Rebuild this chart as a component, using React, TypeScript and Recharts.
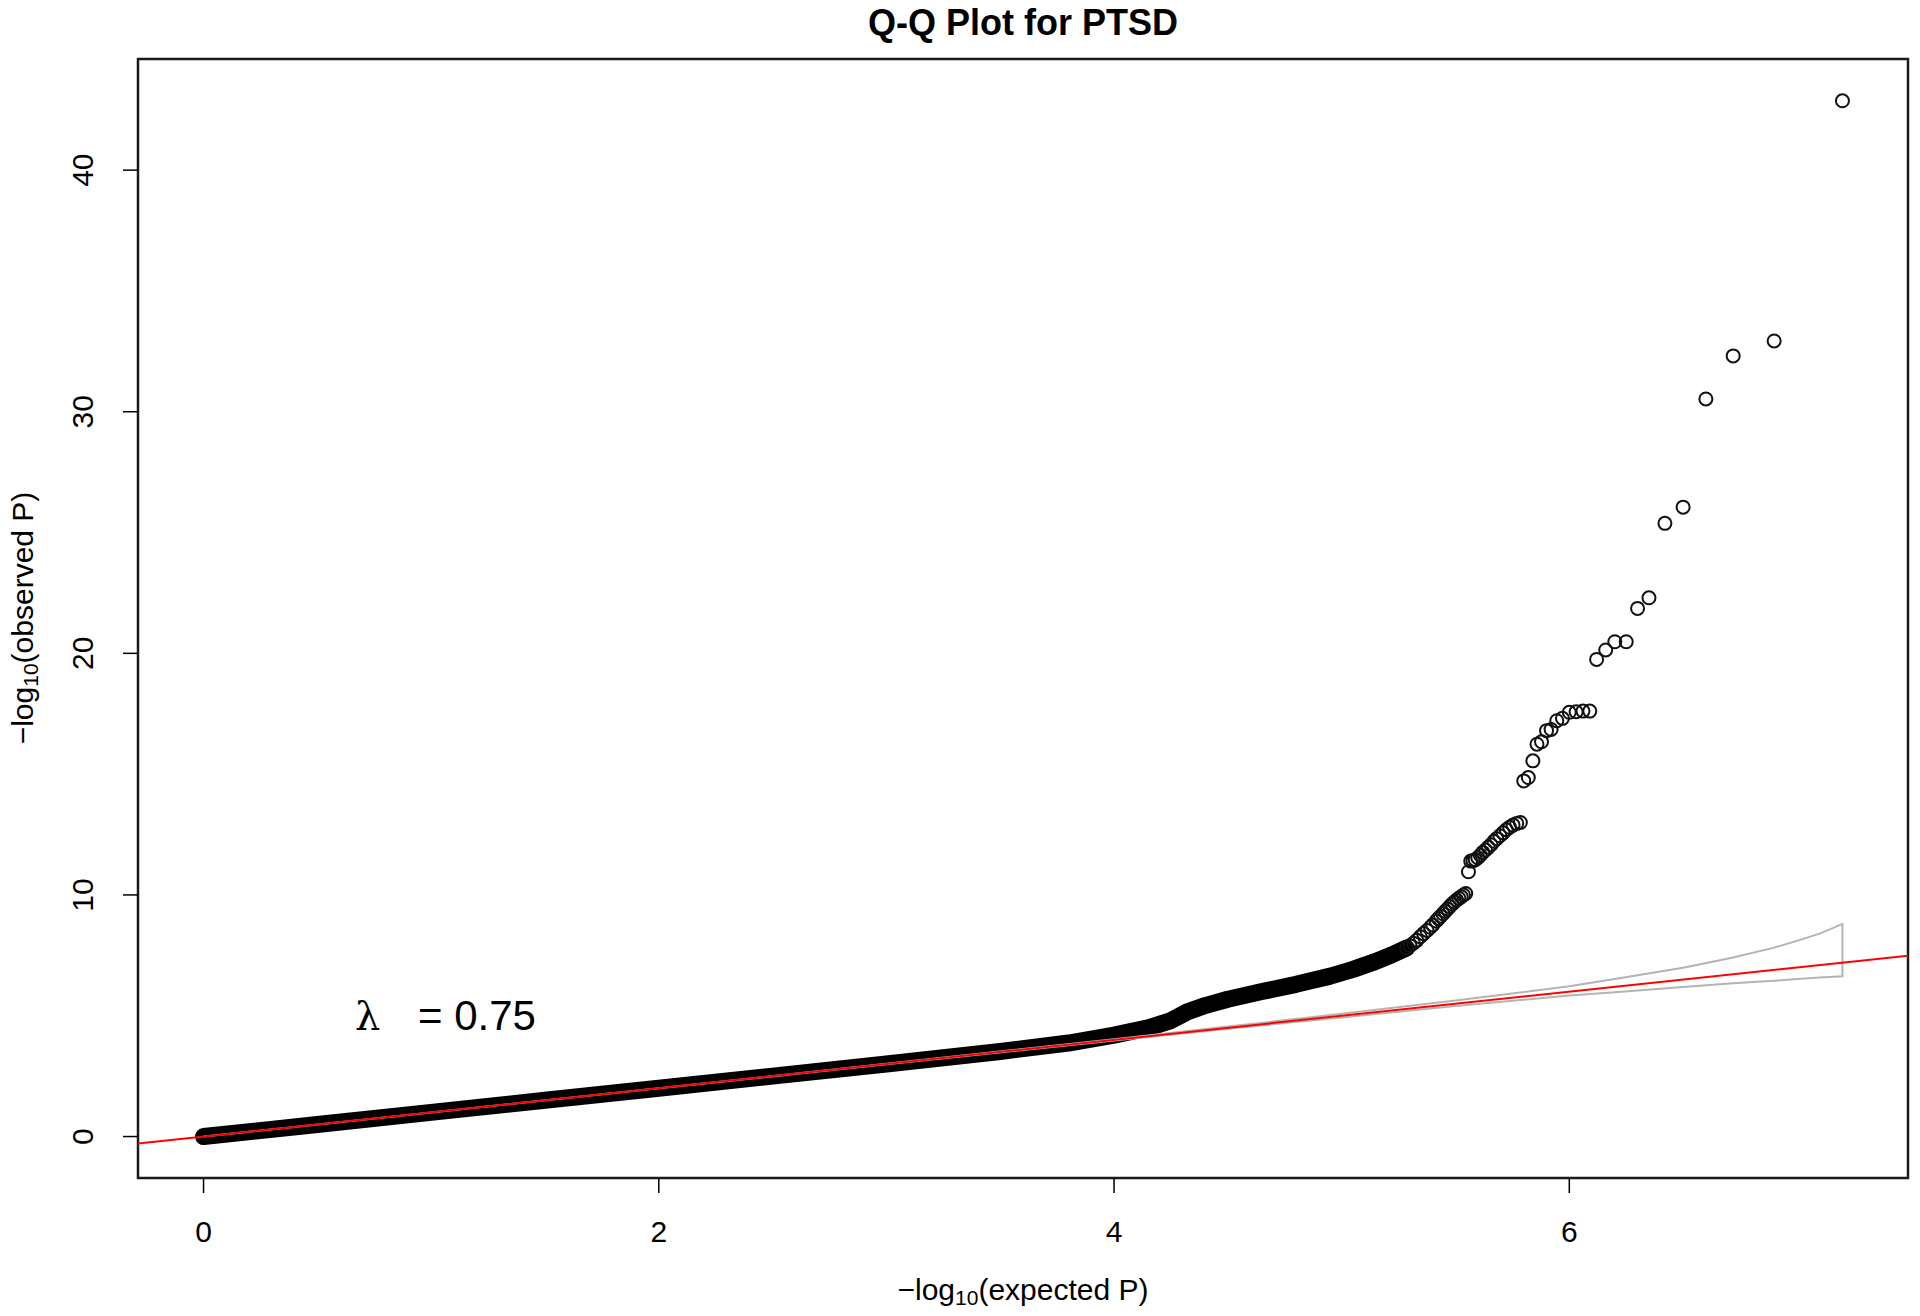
import { ComposedChart, Scatter, XAxis, YAxis, ReferenceArea } from 'recharts'

// axis ranges / ticks (R adds 4% on each side)
const xDomain = [-0.288, 7.488]
const yDomain = [-1.716, 44.6]
const xTicks = [0, 2, 4, 6]
const yTicks = [0, 10, 20, 30, 40]

// dense bulk of the SNPs, drawn as a thick band
const bodyX = [0, 0.5, 1, 1.5, 2, 2.5, 3, 3.5, 3.8, 4.0, 4.15, 4.25, 4.32, 4.4, 4.5, 4.65, 4.8, 4.95, 5.05, 5.15, 5.22, 5.285]
const bodyY = [0, 0.5, 1, 1.5, 2, 2.5, 3, 3.52, 3.87, 4.2, 4.5, 4.8, 5.15, 5.42, 5.68, 6.0, 6.3, 6.64, 6.92, 7.25, 7.52, 7.8]

// where single circles start to show
const midX = [5.545, 5.535, 5.525, 5.515, 5.505, 5.495, 5.485, 5.475, 5.465, 5.455, 5.445, 5.435, 5.425, 5.415, 5.40, 5.39, 5.375, 5.36, 5.345, 5.33, 5.315, 5.30, 5.285]
const midY = [10.06, 10.0, 9.93, 9.86, 9.79, 9.71, 9.62, 9.52, 9.42, 9.32, 9.22, 9.12, 9.02, 8.92, 8.76, 8.66, 8.53, 8.4, 8.27, 8.12, 8.0, 7.9, 7.8]

// top hits
const tailX = [7.20, 6.90, 6.72, 6.60, 6.50, 6.42, 6.35, 6.30, 6.25, 6.20, 6.16, 6.12, 6.09, 6.06, 6.03, 6.00, 5.97, 5.945, 5.92, 5.90, 5.878, 5.858, 5.84, 5.82, 5.80, 5.785, 5.769, 5.753, 5.738, 5.723, 5.709, 5.695, 5.681, 5.669, 5.656, 5.644, 5.632, 5.62, 5.609, 5.598, 5.587, 5.577, 5.567, 5.557]
const tailY = [42.87, 32.93, 32.31, 30.53, 26.05, 25.38, 22.30, 21.86, 20.48, 20.48, 20.14, 19.75, 17.61, 17.61, 17.58, 17.56, 17.31, 17.21, 16.85, 16.80, 16.34, 16.24, 15.55, 14.86, 14.72, 13.00, 12.96, 12.89, 12.80, 12.70, 12.57, 12.45, 12.33, 12.22, 12.08, 11.97, 11.86, 11.76, 11.64, 11.54, 11.46, 11.42, 11.40, 10.96]

// 95% confidence band
const ciX = [0, 1, 2, 3, 4, 4.5, 5, 5.5, 6, 6.2, 6.5, 6.72, 6.9, 7.0, 7.1, 7.2]
const ciUpper = [0, 1, 2, 3.01, 4.03, 4.55, 5.08, 5.63, 6.22, 6.52, 6.99, 7.41, 7.82, 8.1, 8.4, 8.8]
const ciLower = [0, 1, 2, 2.99, 3.97, 4.46, 4.93, 5.4, 5.84, 5.97, 6.19, 6.34, 6.45, 6.52, 6.58, 6.63]

const lambdaText = '= 0.75'

const font = '"Liberation Sans", Arial, Helvetica, sans-serif'

const body = bodyX.map((x, i) => ({ x, y: bodyY[i] }))
const points = [
  ...midX.map((x, i) => ({ x, y: midY[i] })),
  ...tailX.map((x, i) => ({ x, y: tailY[i] })),
]
const band = [
  ...ciX.map((x, i) => ({ x, y: ciUpper[i] })),
  ...ciX.map((x, i) => ({ x, y: ciLower[i] })).reverse(),
]
const diag = [
  { x: xDomain[0], y: xDomain[0] },
  { x: xDomain[1], y: xDomain[1] },
]

const OpenCircle = (p: any) => (
  <circle cx={p.cx} cy={p.cy} r={6.5} fill="none" stroke="#111" strokeWidth={2} />
)
const NoDot = () => <g />

const XTick = ({ x, payload }: any) => (
  <text x={x} y={1231} textAnchor="middle" dominantBaseline="central" fontFamily={font} fontSize={30} fill="#000">
    {payload.value}
  </text>
)
const YTick = ({ y, payload }: any) => (
  <text x={83} y={y} transform={`rotate(-90, 83, ${y})`} textAnchor="middle" dominantBaseline="central" fontFamily={font} fontSize={30} fill="#000">
    {payload.value}
  </text>
)

export default function App() {
  return (
    <div style={{ position: 'absolute', left: 0, top: 0, width: 1920, height: 1316, background: '#fff' }}>
      <ComposedChart width={1920} height={1316} margin={{ top: 59, right: 12, bottom: 10, left: 10 }}>
        <XAxis
          type="number"
          dataKey="x"
          domain={xDomain}
          ticks={xTicks}
          allowDataOverflow
          height={128}
          axisLine={false}
          tickSize={15}
          tickLine={{ stroke: '#000', strokeWidth: 1.5 }}
          tick={<XTick />}
        />
        <YAxis
          type="number"
          dataKey="y"
          domain={yDomain}
          ticks={yTicks}
          allowDataOverflow
          width={128}
          axisLine={false}
          tickSize={15}
          tickLine={{ stroke: '#000', strokeWidth: 1.5 }}
          tick={<YTick />}
        />
        <Scatter
          data={body}
          line={{ stroke: '#000', strokeWidth: 17, strokeLinecap: 'round', strokeLinejoin: 'round' }}
          shape={NoDot}
          isAnimationActive={false}
        />
        <Scatter data={points} shape={OpenCircle} isAnimationActive={false} />
        <Scatter
          data={band}
          line={{ stroke: '#b4b4b4', strokeWidth: 2 }}
          shape={NoDot}
          isAnimationActive={false}
        />
        <Scatter
          data={diag}
          line={{ stroke: '#ff0000', strokeWidth: 2 }}
          shape={NoDot}
          isAnimationActive={false}
        />
        <ReferenceArea
          x1={xDomain[0]}
          x2={xDomain[1]}
          y1={yDomain[0]}
          y2={yDomain[1]}
          fill="none"
          stroke="#1a1a1a"
          strokeWidth={2.5}
          ifOverflow="visible"
        />
      </ComposedChart>
      <svg width={1920} height={1316} style={{ position: 'absolute', left: 0, top: 0, pointerEvents: 'none' }}>
        <text x={1023} y={22} textAnchor="middle" dominantBaseline="central" fontFamily={font} fontSize={36} fontWeight="bold" fill="#000">
          Q-Q Plot for PTSD
        </text>
        <text x={1023} y={1289} textAnchor="middle" dominantBaseline="central" fontFamily={font} fontSize={30} fill="#000">
          −log<tspan fontSize={21} dy={8}>10</tspan><tspan dy={-8}>(expected P)</tspan>
        </text>
        <text x={22} y={618} transform="rotate(-90, 22, 618)" textAnchor="middle" dominantBaseline="central" fontFamily={font} fontSize={30} fill="#000">
          −log<tspan fontSize={21} dy={8}>10</tspan><tspan dy={-8}>(observed P)</tspan>
        </text>
        <text x={355} y={1030} fontFamily='"DejaVu Serif", "Liberation Serif", serif' fontSize={40} fill="#000">λ</text>
        <text x={418} y={1030} fontFamily={font} fontSize={42} fill="#000">{lambdaText}</text>
      </svg>
    </div>
  )
}
